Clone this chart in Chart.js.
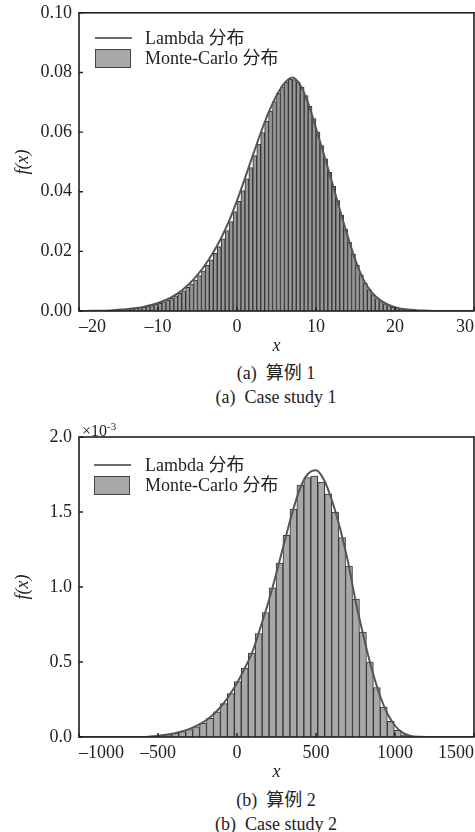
<!DOCTYPE html>
<html>
<head>
<meta charset="utf-8">
<script src="https://cdn.jsdelivr.net/npm/chart.js@4.4.1/dist/chart.umd.min.js"></script>
<style>
  html, body { margin: 0; padding: 0; background: #fff; }
  #page { position: relative; width: 475px; height: 832px; overflow: hidden;
          font-family: "Liberation Serif", "Noto Sans CJK SC", serif; color: #222; }
  canvas { position: absolute; left: 0; }
  .txt { position: absolute; font-size: 18px; line-height: 20px; white-space: nowrap; }
  .legLine { position: absolute; height: 2px; background: #6a6a6a; }
  .legBox { position: absolute; box-sizing: border-box; background: #a8a8a8; border: 1px solid #444; }
  .caption { position: absolute; left: 0; width: 552px; text-align: center; font-size: 18px; line-height: 22px; white-space: pre; }
</style>
</head>
<body>
<div id="page">
  <canvas id="chartA" width="479" height="366" style="top:-5px"></canvas>
  <canvas id="chartB" width="479" height="370" style="top:417px"></canvas>

  <!-- legend (a) -->
  <div class="legLine" style="left:95px; top:37px; width:37px;"></div>
  <div class="txt" style="left:145px; top:28px;">Lambda 分布</div>
  <div class="legBox" style="left:95px; top:49px; width:36px; height:19px;"></div>
  <div class="txt" style="left:145px; top:48px;">Monte-Carlo 分布</div>

  <!-- legend (b) -->
  <div class="legLine" style="left:94px; top:464px; width:37px;"></div>
  <div class="txt" style="left:145px; top:455px;">Lambda 分布</div>
  <div class="legBox" style="left:94px; top:476px; width:36px; height:19px;"></div>
  <div class="txt" style="left:145px; top:475px;">Monte-Carlo 分布</div>

  <div class="txt" style="left:82px; top:423px; font-size:16px; line-height:16px;">×10<sup style="font-size:11px; line-height:0;">-3</sup></div>

  <div class="caption" style="top:362px;">(a)  算例 1</div>
  <div class="caption" style="top:386px;">(a)  Case study 1</div>
  <div class="caption" style="top:789px;">(b)  算例 2</div>
  <div class="caption" style="top:813px;">(b)  Case study 2</div>
</div>

<script>
// ---- case study 1 ----
const binsA = [-15.75, -15.25, -14.75, -14.25, -13.75, -13.25, -12.75, -12.25, -11.75, -11.25,
  -10.75, -10.25, -9.75, -9.25, -8.75, -8.25, -7.75, -7.25, -6.75, -6.25,
  -5.75, -5.25, -4.75, -4.25, -3.75, -3.25, -2.75, -2.25, -1.75, -1.25,
  -0.75, -0.25, 0.25, 0.75, 1.25, 1.75, 2.25, 2.75, 3.25, 3.75,
  4.25, 4.75, 5.25, 5.75, 6.25, 6.75, 7.25, 7.75, 8.25, 8.75,
  9.25, 9.75, 10.25, 10.75, 11.25, 11.75, 12.25, 12.75, 13.25, 13.75,
  14.25, 14.75, 15.25, 15.75, 16.25, 16.75, 17.25, 17.75, 18.25, 18.75,
  19.25, 19.75, 20.25, 20.75, 21.25, 21.75, 22.25, 22.75, 23.25, 23.75];
const mcA = [0.0002, 0.0003, 0.0004, 0.0005, 0.0006, 0.0007, 0.0009, 0.0011, 0.0013, 0.0016,
  0.0019, 0.0022, 0.0026, 0.0031, 0.0037, 0.0043, 0.0051, 0.0059, 0.0068, 0.0079,
  0.0091, 0.0104, 0.0119, 0.0135, 0.0153, 0.0172, 0.0193, 0.0216, 0.0242, 0.0270,
  0.0300, 0.0333, 0.0368, 0.0404, 0.0443, 0.0481, 0.0521, 0.0560, 0.0598, 0.0636,
  0.0670, 0.0702, 0.0730, 0.0752, 0.0768, 0.0777, 0.0776, 0.0768, 0.0750, 0.0722,
  0.0686, 0.0645, 0.0600, 0.0555, 0.0510, 0.0465, 0.0418, 0.0370, 0.0322, 0.0275,
  0.0230, 0.0190, 0.0153, 0.0121, 0.0094, 0.0072, 0.0055, 0.0042, 0.0032, 0.0024,
  0.0018, 0.0013, 0.0010, 0.0007, 0.0005, 0.0004, 0.0003, 0.0002, 0.0001, 0.0001];
const curveXA = [-20, -19, -18, -17, -16, -15, -14, -13, -12, -11, -10, -9, -8, -7, -6, -5, -4,
  -3, -2, -1, 0, 1, 2, 3, 4, 5, 6, 7, 8, 9, 10, 11, 12, 13, 14, 15, 16, 17, 18, 19, 20,
  21, 22, 23, 24, 25, 26, 27, 28, 29, 30];
const lambdaA = [0, 0, 0.0001, 0.0001, 0.0002, 0.0004, 0.0006, 0.0009, 0.0013, 0.0019,
  0.0027, 0.0037, 0.0051, 0.0069, 0.0092, 0.0121, 0.0156, 0.0197, 0.0245, 0.0302,
  0.0370, 0.0445, 0.0522, 0.0597, 0.0666, 0.0722, 0.0764, 0.0783, 0.0758, 0.0698,
  0.0613, 0.0525, 0.0435, 0.0342, 0.0252, 0.0170, 0.0106, 0.0064, 0.0039, 0.0023,
  0.0013, 0.0007, 0.0004, 0.0002, 0.0001, 0, 0, 0, 0, 0, 0];

// ---- case study 2 (values in units of 1e-3) ----
const binsB = [-523, -479, -435, -391, -347, -303, -259, -215, -171, -127, -83, -39, 5, 49,
  93, 137, 181, 225, 269, 313, 357, 401, 445, 489, 533, 577, 621, 665, 709, 753,
  797, 841, 885, 929, 973, 1017, 1061];
const mcB = [0.006, 0.010, 0.016, 0.025, 0.036, 0.050, 0.068, 0.092, 0.125, 0.168,
  0.222, 0.290, 0.370, 0.460, 0.560, 0.690, 0.830, 0.995, 1.160, 1.345,
  1.520, 1.680, 1.730, 1.740, 1.700, 1.620, 1.500, 1.330, 1.140, 0.920,
  0.700, 0.500, 0.330, 0.200, 0.105, 0.045, 0.015];
const curveXB = [-1000, -950, -900, -850, -800, -750, -700, -650, -600, -550, -500, -450,
  -400, -350, -300, -250, -200, -150, -100, -50, 0, 50, 100, 150, 200, 250, 300, 350,
  400, 450, 500, 550, 600, 650, 700, 750, 800, 850, 900, 950, 1000, 1050, 1100, 1150,
  1200, 1250, 1300, 1350, 1400, 1450, 1500];
const lambdaB = [0, 0, 0, 0, 0, 0, 0, 0, 0, 0.003, 0.008, 0.015,
  0.024, 0.037, 0.054, 0.077, 0.108, 0.150, 0.205, 0.275, 0.360, 0.460, 0.575, 0.735,
  0.905, 1.095, 1.300, 1.495, 1.660, 1.755, 1.778, 1.715, 1.580, 1.400, 1.180, 0.910,
  0.675, 0.465, 0.290, 0.160, 0.075, 0.027, 0.007, 0.001, 0, 0, 0, 0, 0, 0, 0];

const FONT = "'Liberation Serif', 'Noto Sans CJK SC', serif";

// frame round the plot + short inward tick marks
const framePlugin = {
  id: 'plotFrame',
  afterDraw(chart) {
    const ctx = chart.ctx;
    const a = chart.chartArea;
    const sx = chart.scales.x, sy = chart.scales.y;
    ctx.save();
    ctx.strokeStyle = '#1e1e1e';
    ctx.lineWidth = 1.6;
    ctx.strokeRect(a.left, a.top, a.right - a.left, a.bottom - a.top);
    ctx.lineWidth = 1.4;
    ctx.beginPath();
    sx.ticks.forEach(t => {
      const px = sx.getPixelForValue(t.value);
      ctx.moveTo(px, a.bottom);
      ctx.lineTo(px, a.bottom - 4);
    });
    sy.ticks.forEach(t => {
      const py = sy.getPixelForValue(t.value);
      ctx.moveTo(a.left, py);
      ctx.lineTo(a.left + 4, py);
    });
    ctx.stroke();
    ctx.restore();
  }
};

function makeChart(id, cfg) {
  const barData = cfg.bins.map((x, i) => ({ x: x, y: cfg.mc[i] }));
  const lineData = cfg.curveX.map((x, i) => ({ x: x, y: cfg.lambda[i] }));

  return new Chart(document.getElementById(id), {
    type: 'bar',
    data: {
      datasets: [{
        type: 'line',
        label: 'Lambda 分布',
        data: lineData,
        borderColor: '#555',
        borderWidth: 2,
        pointRadius: 0,
        cubicInterpolationMode: 'monotone',
        fill: false,
        order: 0
      }, {
        type: 'bar',
        label: 'Monte-Carlo 分布',
        data: barData,
        backgroundColor: cfg.barFill,
        borderColor: '#333',
        borderWidth: 1,
        barPercentage: 1,
        categoryPercentage: 1,
        order: 1
      }]
    },
    options: {
      responsive: false,
      animation: false,
      devicePixelRatio: 1,
      layout: { padding: { top: cfg.padTop, right: 1, left: 0, bottom: 0 } },
      plugins: { legend: { display: false }, tooltip: { enabled: false } },
      scales: {
        x: {
          type: 'linear',
          offset: false,
          min: cfg.xMin,
          max: cfg.xMax,
          grid: { display: false, drawTicks: false },
          border: { display: false },
          ticks: {
            stepSize: cfg.xStep,
            align: 'inner',
            padding: 5,
            color: '#222',
            font: { family: FONT, size: 18 },
            callback: v => String(v).replace('-', '–')
          },
          title: {
            display: true,
            text: 'x',
            color: '#222',
            padding: { top: 0, bottom: 4 },
            font: { family: FONT, size: 18, style: 'italic' }
          },
          afterFit: s => { s.height = 50; }
        },
        y: {
          min: 0,
          max: cfg.yMax,
          grid: { display: false, drawTicks: false },
          border: { display: false },
          ticks: {
            stepSize: cfg.yStep,
            padding: 7,
            color: '#222',
            font: { family: FONT, size: 18 },
            callback: v => v.toFixed(cfg.yDec)
          },
          title: {
            display: true,
            text: 'f(x)',
            color: '#222',
            padding: { top: 12, bottom: 0 },
            font: { family: FONT, size: 18, style: 'italic' }
          },
          afterFit: s => { s.width = 79; }
        }
      }
    },
    plugins: [framePlugin]
  });
}

makeChart('chartA', {
  bins: binsA, mc: mcA, curveX: curveXA, lambda: lambdaA,
  xMin: -20, xMax: 30, xStep: 10, yMax: 0.1, yStep: 0.02, yDec: 2,
  padTop: 13, barFill: '#969696'
});

makeChart('chartB', {
  bins: binsB, mc: mcB, curveX: curveXB, lambda: lambdaB,
  xMin: -1000, xMax: 1500, xStep: 500, yMax: 2.0, yStep: 0.5, yDec: 1,
  padTop: 20, barFill: '#a8a8a8'
});
</script>
</body>
</html>
